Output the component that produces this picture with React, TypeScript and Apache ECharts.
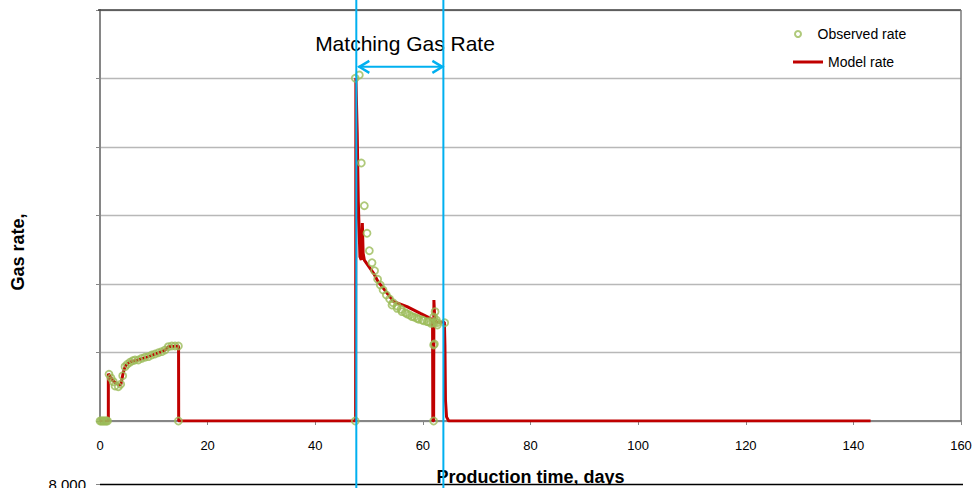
import React, { useEffect, useRef } from "react";
import * as echarts from "echarts";

// Observed gas rate (days, rate)
const obsX = [
  0, 0.2, 0.4, 0.6, 0.8, 1.0, 1.2, 1.4,
  1.67, 2.05, 2.47, 2.79, 3.4, 3.85, 4.22, 4.65, 5.08, 5.58,
  6.08, 6.51, 7.13, 7.76, 8.37, 8.99, 9.62, 10.23, 10.85, 11.48,
  12.09, 12.71, 13.34, 13.95, 14.57, 14.57,
  47.44, 47.44, 48.19, 48.56, 49.12, 49.62, 50.05, 50.55, 51.03, 51.59,
  52.09, 52.6, 53.21, 53.82, 54.26, 54.46, 55.2, 55.2, 55.94, 56.12,
  56.74, 57.06, 57.54, 57.99, 58.42, 58.92, 59.22, 59.85, 60.15, 60.78,
  61.08, 61.52, 61.9, 62.0, 62.0, 62.14, 62.27, 62.01, 62.51, 62.7,
  62.33, 62.64, 64.06,
];
const obsY = [
  0, 0, 0, 0, 0, 0, 0, 0,
  682, 628, 574, 511, 501, 536, 661, 793, 828, 857,
  880, 891, 891, 915, 930, 939, 964, 978, 997, 1012,
  1036, 1085, 1095, 1095, 1095, 0,
  0, 5003, 5051, 3766, 3143, 2740, 2486, 2311, 2194, 2069,
  1985, 1912, 1839, 1781, 1693, 1727, 1679, 1645, 1631, 1596,
  1581, 1562, 1547, 1523, 1514, 1499, 1485, 1474, 1464, 1450,
  1445, 1426, 1435, 0, 1109, 1124, 1596, 1518, 1474, 1401,
  1445, 1435, 1435,
];

// Model gas rate
const modelX = [
  0, 1.55, 1.55, 2.5, 3.6, 3.9, 4.3, 4.7, 5.5, 7,
  9, 11, 12.1, 12.7, 14.6, 14.62, 47.5, 47.55, 47.8, 48.0,
  48.3, 48.55, 48.75, 48.9, 49.12, 50.85, 51.67, 52.41, 54.57, 57.06,
  59.53, 61.4, 61.8, 61.85, 62.0, 62.05, 62.2, 62.4, 64.0, 64.1,
  64.2, 64.4, 64.8, 143.2,
];
const modelY = [
  0, 0, 690, 580, 520, 540, 700, 800, 860, 890,
  940, 1000, 1036, 1085, 1095, 0, 0, 5007, 4200, 3200,
  2400, 2350, 2890, 2450, 2350, 2156, 2034, 1961, 1742, 1669,
  1572, 1499, 1460, 0, 0, 1766, 1500, 1445, 1440, 1100,
  300, 60, 0, 0,
];

// Matching window annotation (days) and arrow level (rate)
const matchWindow = [47.63, 63.81];
const arrowLevel = 5170;
const titleText = "Matching Gas Rate";

const FONT = "Liberation Sans";

export default function App() {
  const ref = useRef<HTMLDivElement>(null);

  useEffect(() => {
    const chart = echarts.init(ref.current!, null, { renderer: "svg" });
    const obsData = obsX.map((x, i) => [x, obsY[i]]);
    const modelData = modelX.map((x, i) => [x, modelY[i]]);

    chart.setOption({
      animation: false,
      backgroundColor: "#ffffff",
      grid: {
        left: 100,
        top: 10,
        width: 861,
        height: 411,
        containLabel: false,
        outerBoundsMode: "none",
      },
      xAxis: {
        type: "value",
        min: 0,
        max: 160,
        interval: 20,
        name: "Production time, days",
        nameLocation: "middle",
        nameGap: 47,
        nameTextStyle: { fontFamily: FONT, fontWeight: "bold", fontSize: 18, color: "#000" },
        axisLine: { show: true, onZero: false, lineStyle: { color: "#868686", width: 2 } },
        axisTick: { show: true, length: 4, lineStyle: { color: "#868686", width: 1 } },
        axisLabel: { margin: 18, fontFamily: FONT, fontSize: 13, color: "#000" },
        splitLine: { show: false },
      },
      yAxis: {
        type: "value",
        min: 0,
        max: 6000,
        interval: 1000,
        axisLine: { show: true, onZero: false, lineStyle: { color: "#868686", width: 2 } },
        axisTick: { show: true, length: 4, lineStyle: { color: "#868686", width: 1 } },
        axisLabel: { show: false },
        splitLine: { show: true, lineStyle: { color: "#b8b8b8", width: 1.3 } },
      },
      legend: [
        {
          data: [
            {
              name: "Observed rate",
              icon: "circle",
              itemStyle: { color: "rgba(0,0,0,0)", borderColor: "#9BBB59", borderWidth: 2 },
            },
          ],
          left: 789,
          top: 22,
          itemWidth: 29,
          itemHeight: 6,
          selectedMode: false,
          textStyle: { fontFamily: FONT, fontSize: 14, color: "#000" },
        },
        {
          data: [{ name: "Model rate", icon: "rect", itemStyle: { color: "#C00000" } }],
          left: 788,
          top: 50,
          itemWidth: 30,
          itemHeight: 3,
          selectedMode: false,
          textStyle: { fontFamily: FONT, fontSize: 14, color: "#000" },
        },
      ],
      series: [
        {
          name: "Model rate",
          type: "line",
          data: modelData,
          showSymbol: false,
          symbol: "none",
          lineStyle: { color: "#C00000", width: 3 },
          itemStyle: { color: "#C00000" },
          z: 2,
        },
        {
          name: "Observed rate",
          type: "scatter",
          data: obsData,
          symbol: "circle",
          symbolSize: 7,
          itemStyle: { color: "rgba(0,0,0,0)", borderColor: "#9BBB59", borderWidth: 1.8 },
          z: 3,
        },
      ],
    });

    const [xa] = chart.convertToPixel({ gridIndex: 0 }, [matchWindow[0], 0]) as number[];
    const [xb, ya] = chart.convertToPixel({ gridIndex: 0 }, [matchWindow[1], arrowLevel]) as number[];
    const [gx0, gy0] = chart.convertToPixel({ gridIndex: 0 }, [0, 0]) as number[];
    const [gx1, gy1] = chart.convertToPixel({ gridIndex: 0 }, [160, 6000]) as number[];
    const blue = "#00B0F0";
    const tipL = xa + 2;
    const tipR = xb;

    chart.setOption({
      graphic: [
        {
          type: "line",
          shape: { x1: gx0 - 2, y1: gy1, x2: gx1, y2: gy1 },
          style: { stroke: "#404040", lineWidth: 1.5 },
          z: 50,
        },
        {
          type: "line",
          shape: { x1: gx1, y1: gy1, x2: gx1, y2: gy0 },
          style: { stroke: "#7a7a7a", lineWidth: 1.5 },
          z: 50,
        },
        {
          type: "text",
          x: 18,
          y: 252,
          rotation: Math.PI / 2,
          style: {
            text: "Gas rate,",
            font: `bold 18px "${FONT}"`,
            fill: "#000",
            textAlign: "center",
            textVerticalAlign: "middle",
          },
        },
        {
          type: "text",
          x: 405,
          y: 43,
          style: {
            text: titleText,
            font: `21px "${FONT}"`,
            fill: "#000",
            textAlign: "center",
            textVerticalAlign: "middle",
          },
          z: 60,
        },
        {
          type: "rect",
          shape: { x: 0, y: 484.5, width: 974, height: 10 },
          style: { fill: "#ffffff" },
          z: 100,
        },
        {
          type: "line",
          shape: { x1: 100, y1: 484.5, x2: 963, y2: 484.5 },
          style: { stroke: "#000", lineWidth: 1.5 },
          z: 101,
        },
        {
          type: "line",
          shape: { x1: 96, y1: 484.5, x2: 100, y2: 484.5 },
          style: { stroke: "#868686", lineWidth: 1 },
          z: 101,
        },
        {
          type: "text",
          x: 86,
          y: 477,
          style: {
            text: "8 000",
            font: `15px "${FONT}"`,
            fill: "#000",
            textAlign: "right",
            textVerticalAlign: "top",
          },
          z: 101,
        },
        {
          type: "line",
          shape: { x1: xa, y1: 0, x2: xa, y2: 488 },
          style: { stroke: blue, lineWidth: 2 },
          z: 110,
        },
        {
          type: "line",
          shape: { x1: xb, y1: 0, x2: xb, y2: 488 },
          style: { stroke: blue, lineWidth: 2 },
          z: 110,
        },
        {
          type: "line",
          shape: { x1: tipL, y1: ya, x2: tipR, y2: ya },
          style: { stroke: blue, lineWidth: 2 },
          z: 110,
        },
        {
          type: "polyline",
          shape: { points: [[tipL + 11, ya - 6], [tipL + 1, ya], [tipL + 11, ya + 6]] },
          style: { stroke: blue, lineWidth: 2.4, fill: "none" },
          z: 110,
        },
        {
          type: "polyline",
          shape: { points: [[tipR - 11, ya - 6], [tipR - 1, ya], [tipR - 11, ya + 6]] },
          style: { stroke: blue, lineWidth: 2.4, fill: "none" },
          z: 110,
        },
      ],
    });

    return () => chart.dispose();
  }, []);

  return (
    <div
      ref={ref}
      style={{ position: "fixed", left: 0, top: 0, width: 974, height: 488, background: "#fff" }}
    />
  );
}
